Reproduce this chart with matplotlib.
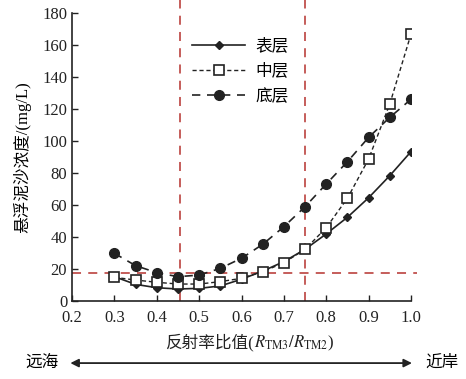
import numpy as np
import matplotlib
matplotlib.use("Agg")
import matplotlib.pyplot as plt
from matplotlib.offsetbox import TextArea, HPacker, AnchoredOffsetbox

plt.rcParams['font.family'] = ['Liberation Serif', 'Noto Sans CJK SC']
plt.rcParams['mathtext.fontset'] = 'stix'

ratio = [0.30, 0.35, 0.40, 0.45, 0.50, 0.55, 0.60, 0.65, 0.70, 0.75, 0.80, 0.85, 0.90, 0.95, 1.00]
surface = [15.5, 10.7, 8.6, 7.8, 8.2, 9.7, 13.9, 19.0, 24.9, 32.6, 42.2, 52.6, 64.8, 78.6, 93.6]
middle = [15.1, 13.4, 12.0, 10.9, 10.9, 12.4, 14.5, 18.6, 24.2, 32.6, 46.1, 64.5, 89.0, 123.4, 167.0]
bottom = [30.1, 22.4, 18.0, 15.5, 16.5, 20.7, 27.0, 35.7, 46.7, 59.2, 73.4, 87.3, 102.5, 115.0, 126.3]
labels = ['表层', '中层', '底层']
vlines = [0.455, 0.75]
hline = 18

red = '#c0504d'
fig = plt.figure(figsize=(4.66, 3.79), dpi=100)
ax = fig.add_axes([0.1545, 0.2045, 0.7275, 0.7605])

ax.plot(ratio, surface, '-', color='#222222', lw=1.2, marker='D', ms=4.5, label=labels[0])
ax.plot(ratio, middle, color='#222222', lw=1.0, ls=(0, (3, 2)), marker='s', ms=7.5,
        mfc='white', mec='#222222', mew=1.2, label=labels[1])
ax.plot(ratio, bottom, color='#222222', lw=1.2, ls=(0, (5, 4)), marker='o', ms=7, label=labels[2])

for v in vlines:
    ax.plot([v, v], [0, 189], color=red, lw=1.3, ls=(0, (5, 4)), clip_on=False, zorder=0)
ax.plot([0.2, 1.013], [hline, hline], color=red, lw=1.3, ls=(0, (5, 4)), clip_on=False, zorder=0)

ax.set_xlim(0.2, 1.0)
ax.set_ylim(0, 180)
ax.set_xticks(np.arange(0.2, 1.01, 0.1))
ax.set_xticklabels([f'{t:.1f}' for t in np.arange(0.2, 1.01, 0.1)])
ax.set_yticks(range(0, 181, 20))
for s in ['top', 'right']:
    ax.spines[s].set_visible(False)
for s in ['left', 'bottom']:
    ax.spines[s].set_linewidth(1.2)
    ax.spines[s].set_color('#222222')
ax.tick_params(direction='in', length=4, width=1, labelsize=12, colors='#222222')
ax.tick_params(axis='x', pad=6)

ax.set_ylabel('悬浮泥沙浓度/(mg/L)', fontsize=12, labelpad=8)

# x label: Chinese part and math part packed side by side
xl = HPacker(children=[
    TextArea('反射率比值(', textprops=dict(fontsize=12, color='#222222')),
    TextArea(r'$R_{\mathrm{TM3}}/R_{\mathrm{TM2}}$)', textprops=dict(fontsize=12, color='#222222')),
], align='baseline', pad=0, sep=0)
fig.add_artist(AnchoredOffsetbox(loc='center', child=xl, frameon=False, pad=0, borderpad=0,
                                 bbox_to_anchor=(0.535, 0.095), bbox_transform=fig.transFigure))

ax.legend(loc='upper left', bbox_to_anchor=(0.31, 0.965), frameon=False, fontsize=12,
          handlelength=3.2, handletextpad=0.6, labelspacing=0.55)

fig.text(0.055, 0.042, '远海', fontsize=12, va='center')
fig.text(0.912, 0.042, '近岸', fontsize=12, va='center')
fig.patches.append(matplotlib.patches.FancyArrowPatch(
    (0.145, 0.042), (0.89, 0.042), transform=fig.transFigure, arrowstyle='<|-|>',
    mutation_scale=12, lw=1.3, color='#222222'))

fig.savefig('out.png', dpi=100)
